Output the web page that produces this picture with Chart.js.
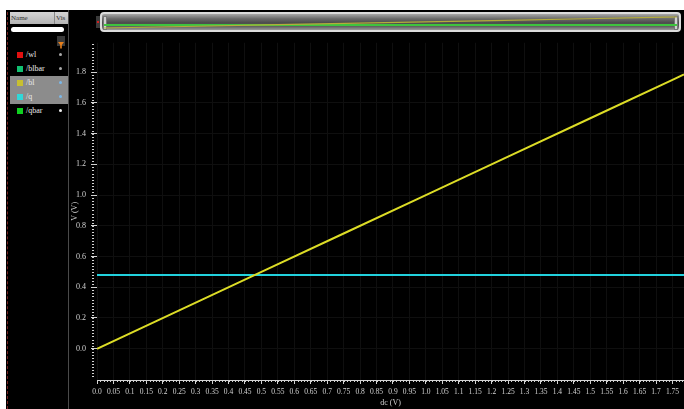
<!DOCTYPE html>
<html>
<head>
<meta charset="utf-8">
<script src="https://cdn.jsdelivr.net/npm/chart.js@4.4.1/dist/chart.umd.min.js"></script>
<style>
  html, body { margin: 0; padding: 0; width: 684px; height: 409px; overflow: hidden; background: #000; }
  body { position: relative; font-family: 'Liberation Serif', serif; }
  .abs { position: absolute; }
  #topband { left: 0; top: 0; width: 684px; height: 10px; background: #fff; }
  #leftband { left: 0; top: 0; width: 6px; height: 409px; background: #fff; }
  #redline { left: 7px; top: 12px; width: 0; height: 397px; border-left: 1px dashed #7a2424; }
  #panelEdge { left: 68px; top: 10px; width: 1px; height: 399px; background: #4a4a4a; }
  #hdr { left: 10px; top: 12px; width: 58px; height: 12px; background: linear-gradient(#d4d4d4, #b4b4b4); color: #333; font-size: 7px; line-height: 12px; }
  #hdr span { position: absolute; top: 0; }
  #hdr .div { left: 44px; top: 0; width: 1px; height: 12px; background: #888; }
  #search { left: 11px; top: 27px; width: 53px; height: 5px; background: #fff; border-radius: 3px; }
  #filter { left: 57px; top: 36px; width: 8px; height: 10px; background: #3a3a3a; }
  #sel { left: 10px; top: 76px; width: 58px; height: 28px; background: #8c8c8c; }
  .row { position: absolute; left: 10px; width: 58px; height: 14px; font-size: 8px; line-height: 14px; color: #e8e8e8; }
  .row .sw { position: absolute; left: 7px; top: 4px; width: 6px; height: 6px; }
  .row .nm { position: absolute; left: 16px; top: 0; }
  .row .vi { position: absolute; left: 49px; top: 5px; width: 3px; height: 3px; border-radius: 50%; }
  #ovbox { left: 100px; top: 12px; width: 577px; height: 16px; border: 2px solid #dcdcdc; border-radius: 4px;
           background: linear-gradient(#a8a8a8, #6a6a6a 30%, #4c4c4c 55%, #5a5a5a 75%, #9a9a9a); }
  .hdl { position: absolute; top: 2px; width: 2px; height: 12px; background: #cfcfcf; border: 1px solid #777; }
  #ovmark { left: 96px; top: 16px; width: 4px; height: 12px; background: #3a3a3a; }
  #ovmark i { position: absolute; left: 1px; top: 5px; width: 2px; height: 2px; background: #d02020; }
  #ov { left: 104px; top: 14px; }
  #main { left: 68px; top: 33px; }
</style>
</head>
<body>
<div class="abs" id="topband"></div>
<div class="abs" id="leftband"></div>
<div class="abs" id="redline"></div>
<div class="abs" id="panelEdge"></div>
<div class="abs" id="hdr"><span style="left:1px">Name</span><div class="abs div"></div><span style="left:46px">Vis</span></div>
<div class="abs" id="search"></div>
<div class="abs" id="filter">
  <svg width="8" height="10" viewBox="0 0 8 10"><path d="M1 2 H7 L4.8 5 V8.5 H3.2 V5 Z" fill="#e8801c"/></svg>
</div>
<div class="abs" id="sel"></div>
<div id="rows"></div>

<div class="abs" id="ovmark"><i></i></div>
<div class="abs" id="ovbox">
  <div class="hdl" style="left:1px"></div>
  <div class="hdl" style="right:1px"></div>
</div>
<canvas class="abs" id="ov" width="573" height="16"></canvas>
<canvas class="abs" id="main" width="616" height="376"></canvas>

<script>
// signal list in the browser panel
const signalNames = ['/wl', '/blbar', '/bl', '/q', '/qbar'];
const signalColors = ['#e01010', '#10c070', '#c8c030', '#30d8d8', '#10d020'];
const visColors = ['#aaa', '#aaa', '#7ab8e8', '#7ab8e8', '#f0f0f0'];

// dc sweep (V) and node voltages (V)
const sweep = [0, 0.25, 0.5, 0.75, 1.0, 1.25, 1.5, 1.75, 1.785];
const bl = [0, 0.25, 0.5, 0.75, 1.0, 1.25, 1.5, 1.75, 1.785];
const q = [0.48, 0.48, 0.48, 0.48, 0.48, 0.48, 0.48, 0.48, 0.48];

const xTickLabels = ['0.0', '0.05', '0.1', '0.15', '0.2', '0.25', '0.3', '0.35', '0.4', '0.45',
  '0.5', '0.55', '0.6', '0.65', '0.7', '0.75', '0.8', '0.85', '0.9', '0.95',
  '1.0', '1.05', '1.1', '1.15', '1.2', '1.25', '1.3', '1.35', '1.4', '1.45',
  '1.5', '1.55', '1.6', '1.65', '1.7', '1.75'];
const yTickLabels = ['0.0', '0.2', '0.4', '0.6', '0.8', '1.0', '1.2', '1.4', '1.6', '1.8'];

const rows = document.getElementById('rows');
signalNames.forEach((n, i) => {
  const r = document.createElement('div');
  r.className = 'row';
  r.style.top = (48 + i * 14) + 'px';
  r.innerHTML = '<span class="sw" style="background:' + signalColors[i] + '"></span>' +
    '<span class="nm">' + n + '</span>' +
    '<span class="vi" style="background:' + visColors[i] + '"></span>';
  rows.appendChild(r);
});

const pts = ys => sweep.map((x, i) => ({ x: x, y: ys[i] }));
const axisFont = { family: "'Liberation Serif', serif", size: 8 };
const fg = '#d2d2d2';

// small ticks between the labelled ones
const minorTicks = {
  id: 'minorTicks',
  afterDraw(chart) {
    const { ctx, chartArea: a, scales: { x, y } } = chart;
    ctx.save();
    ctx.strokeStyle = fg;
    ctx.lineWidth = 1;
    ctx.beginPath();
    for (let k = 0; k <= 178; k++) {
      const px = Math.round(x.getPixelForValue(k / 100)) + 0.5;
      ctx.moveTo(px, a.bottom);
      ctx.lineTo(px, a.bottom + 2);
    }
    for (let k = -9; k <= 99; k++) {
      const py = Math.round(y.getPixelForValue(k / 50)) + 0.5;
      ctx.moveTo(a.left - 5, py);
      ctx.lineTo(a.left - 3, py);
    }
    ctx.stroke();
    ctx.restore();
  }
};

new Chart(document.getElementById('main'), {
  type: 'line',
  data: {
    datasets: [
      { label: '/bl', data: pts(bl), borderColor: '#dcdc26', borderWidth: 2, pointRadius: 0 },
      { label: '/q', data: pts(q), borderColor: '#22d2de', borderWidth: 2, pointRadius: 0 }
    ]
  },
  options: {
    responsive: false,
    animation: false,
    layout: { padding: { top: 2, left: 0, right: 0, bottom: 0 } },
    plugins: { legend: { display: false }, tooltip: { enabled: false } },
    scales: {
      x: {
        type: 'linear', min: 0, max: 1.785,
        afterFit: s => { s.height = 29; },
        ticks: {
          stepSize: 0.05, includeBounds: false, autoSkip: false, maxRotation: 0,
          color: fg, font: { family: axisFont.family, size: 7.5 }, padding: 4,
          callback: (v, i) => xTickLabels[i]
        },
        grid: { color: '#0f0f0f', tickColor: fg, tickLength: 4 },
        border: { color: fg },
        title: { display: true, text: 'dc (V)', color: fg, font: axisFont, padding: { top: 1, bottom: 1 } }
      },
      y: {
        type: 'linear', min: -0.2035, max: 1.991,
        afterFit: s => { s.width = 29; },
        afterBuildTicks: a => { a.ticks = a.ticks.filter(t => t.value > -0.01); },
        ticks: {
          stepSize: 0.2, includeBounds: false, color: fg, font: axisFont, padding: 5,
          callback: v => yTickLabels[Math.round(v / 0.2)]
        },
        grid: { color: '#0f0f0f', tickColor: fg, tickLength: 6 },
        border: { display: false },
        title: { display: true, text: 'V (V)', color: fg, font: axisFont, padding: { top: 2, bottom: 1 } }
      }
    }
  },
  plugins: [minorTicks]
});

// overview strip
new Chart(document.getElementById('ov'), {
  type: 'line',
  data: {
    datasets: [
      { data: pts(bl), borderColor: '#b4ac3c', borderWidth: 1.2, pointRadius: 0 },
      { data: pts(q), borderColor: '#3ec43e', borderWidth: 2, pointRadius: 0 }
    ]
  },
  options: {
    responsive: false,
    animation: false,
    layout: { padding: 0 },
    plugins: { legend: { display: false }, tooltip: { enabled: false } },
    scales: {
      x: { type: 'linear', min: 0, max: 1.785, display: false },
      y: { min: -0.32, max: 2.27, display: false }
    }
  }
});
</script>
</body>
</html>
